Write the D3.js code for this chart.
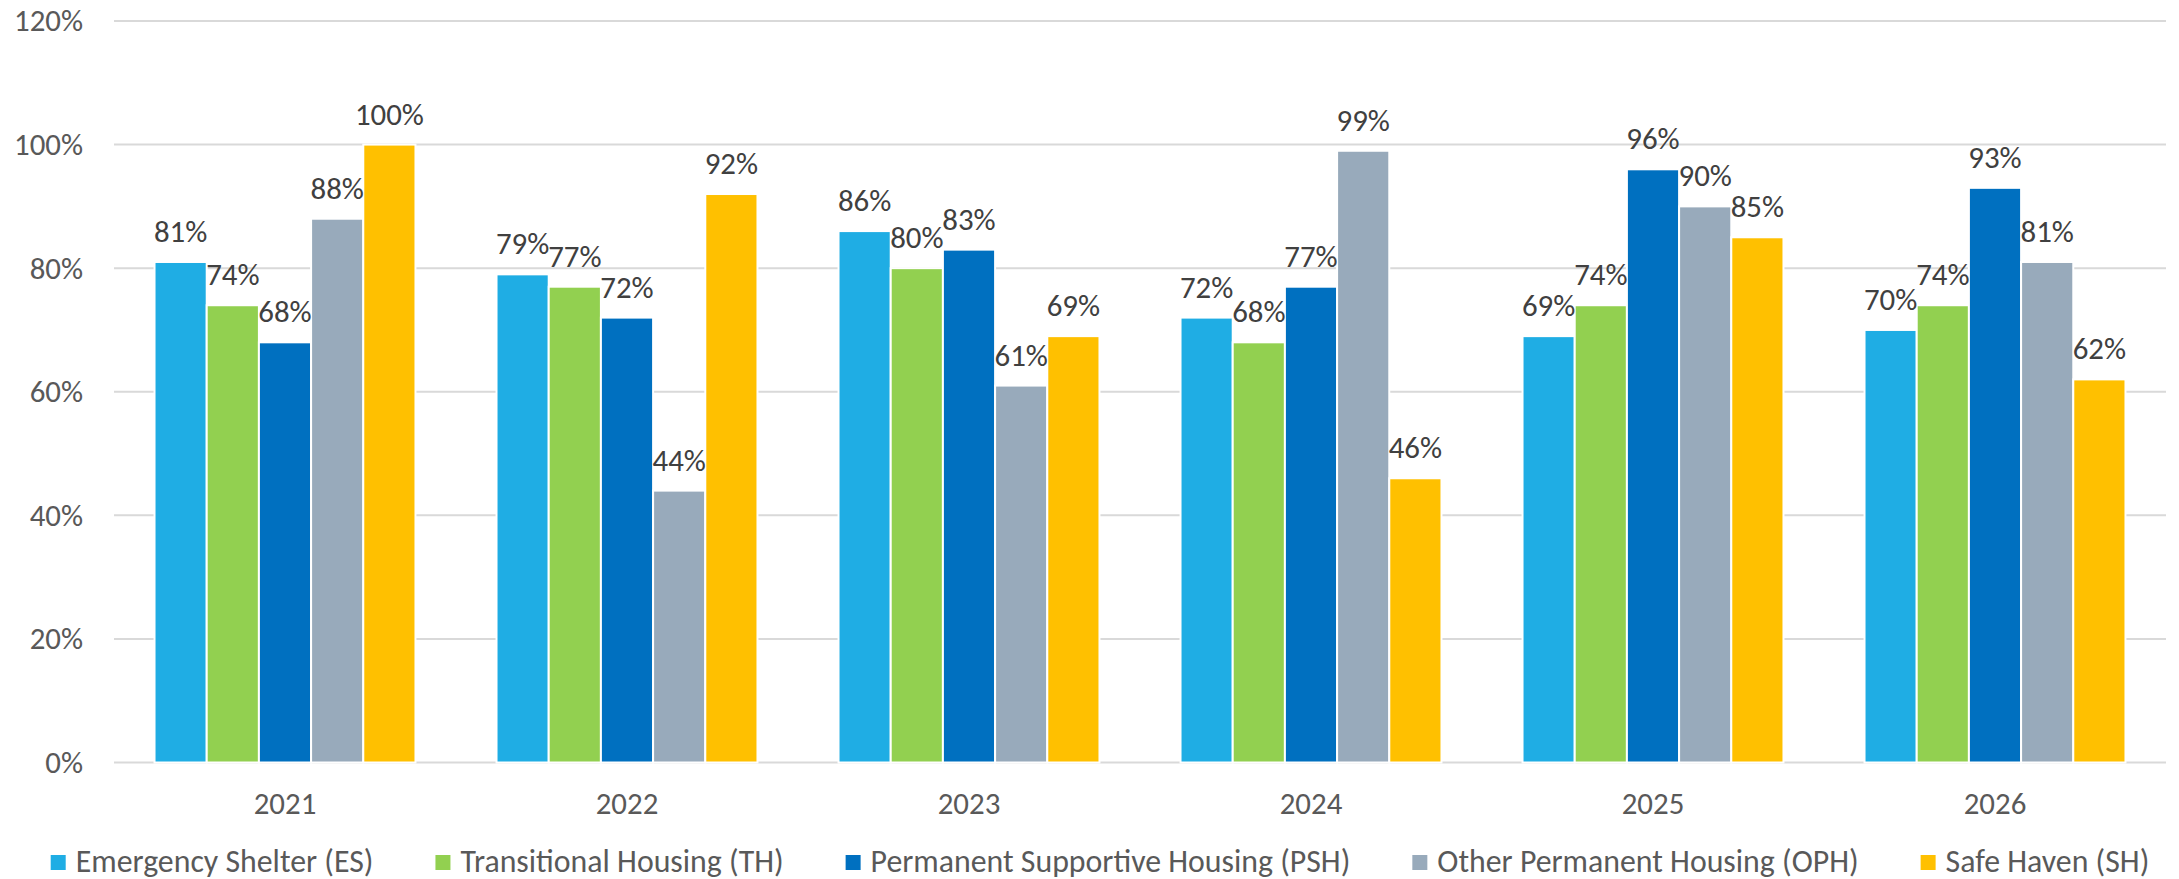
<!DOCTYPE html>
<html>
<head>
<meta charset="utf-8">
<script src="https://cdn.jsdelivr.net/npm/d3@7"></script>
<style>
  body { margin: 0; background: #fff; }
  text { font-family: Carlito, Calibri, Lato, sans-serif; }
</style>
</head>
<body>
<div id="my_dataviz"></div>
<script>
// data
const years = ["2021", "2022", "2023", "2024", "2025", "2026"];
const seriesNames = ["Emergency Shelter (ES)", "Transitional Housing (TH)",
  "Permanent Supportive Housing (PSH)", "Other Permanent Housing (OPH)", "Safe Haven (SH)"];
const esValues  = [0.81, 0.79, 0.86, 0.72, 0.69, 0.70];
const thValues  = [0.74, 0.77, 0.80, 0.68, 0.74, 0.74];
const pshValues = [0.68, 0.72, 0.83, 0.77, 0.96, 0.93];
const ophValues = [0.88, 0.44, 0.61, 0.99, 0.90, 0.81];
const shValues  = [1.00, 0.92, 0.69, 0.46, 0.85, 0.62];
const yTicks = [0, 0.2, 0.4, 0.6, 0.8, 1.0, 1.2];

const allSeries = [esValues, thValues, pshValues, ophValues, shValues];
const colors = ["#1FADE4", "#92D050", "#0070C0", "#98AABB", "#FFC000"];

// set the dimensions
const W = 2179, H = 879;
const plot = {left: 114, right: 2166, top: 21, bottom: 762.5};

const svg = d3.select("#my_dataviz")
  .append("svg")
    .attr("width", W)
    .attr("height", H);

const x = d3.scaleBand()
  .domain(years)
  .range([plot.left, plot.right])
  .paddingInner(0.237)
  .paddingOuter(0.1185);

const xSub = d3.scaleBand()
  .domain(seriesNames)
  .range([0, x.bandwidth()])
  .padding(0);

const y = d3.scaleLinear()
  .domain([0, 1.2])
  .range([plot.bottom, plot.top]);

const color = d3.scaleOrdinal().domain(seriesNames).range(colors);
const pct = d3.format(".0%");

// gridlines
svg.append("g")
  .selectAll("line")
  .data(yTicks)
  .join("line")
    .attr("x1", plot.left)
    .attr("x2", plot.right)
    .attr("y1", d => y(d))
    .attr("y2", d => y(d))
    .attr("stroke", "#d9d9d9")
    .attr("stroke-width", 2);

// y tick labels
const yLabels = svg.append("g")
  .selectAll("text")
  .data(yTicks)
  .join("text")
    .attr("x", 83)
    .attr("y", d => y(d))
    .attr("dy", "0.34em")
    .attr("text-anchor", "end")
    .attr("fill", "#595959")
    .text(d => pct(d));

// x labels
const xLabels = svg.append("g")
  .selectAll("text")
  .data(years)
  .join("text")
    .attr("x", d => x(d) + x.bandwidth() / 2)
    .attr("y", 814)
    .attr("text-anchor", "middle")
    .attr("fill", "#595959")
    .text(d => d);

// table of bars built from the series arrays
const rows = [];
seriesNames.forEach((s, i) => {
  years.forEach((yr, j) => rows.push({series: s, year: yr, value: allSeries[i][j]}));
});

svg.append("g")
  .selectAll("rect")
  .data(rows)
  .join("rect")
    .attr("x", d => x(d.year) + xSub(d.series))
    .attr("y", d => y(d.value))
    .attr("width", xSub.bandwidth())
    .attr("height", d => y(0) - y(d.value))
    .attr("fill", d => color(d.series))
    .attr("stroke", "#fff")
    .attr("stroke-width", 2);

const valueLabels = svg.append("g")
  .selectAll("text")
  .data(rows)
  .join("text")
    .attr("x", d => x(d.year) + xSub(d.series) + xSub.bandwidth() / 2)
    .attr("y", d => y(d.value) - 20)
    .attr("text-anchor", "middle")
    .attr("fill", "#404040")
    .text(d => pct(d.value));

// legend
const legend = svg.append("g");
const legendItems = legend.selectAll("g")
  .data(seriesNames)
  .join("g");
legendItems.append("rect")
  .attr("y", 855)
  .attr("width", 15)
  .attr("height", 15)
  .attr("fill", d => color(d));
const legendText = legendItems.append("text")
  .attr("x", 25)
  .attr("y", 871.5)
  .attr("fill", "#595959")
  .text(d => d);

// fit font sizes to the widths measured on the reference
function fit(sel, base, target) {
  sel.style("font-size", base + "px");
  let w = 0;
  sel.each(function() { w += this.getComputedTextLength(); });
  const s = base * target / w;
  sel.style("font-size", s + "px");
  return s;
}
fit(legendText, 31, 297 + 323 + 482 + 420 + 204);
const numSize = fit(yLabels.filter(d => d === 1.2), 31, 69);
yLabels.style("font-size", numSize + "px");
xLabels.style("font-size", numSize + "px");
valueLabels.style("font-size", numSize + "px");

// place legend items one after another
let lx = 50.7;
legendItems.each(function() {
  const g = d3.select(this);
  g.attr("transform", `translate(${lx},0)`);
  lx += 25 + g.select("text").node().getComputedTextLength() + 62;
});
</script>
</body>
</html>
